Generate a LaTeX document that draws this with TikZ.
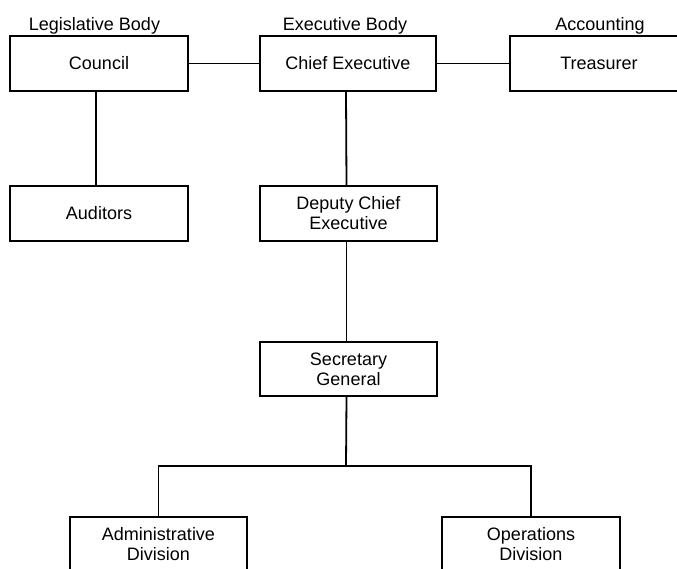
\documentclass[tikz,border=0pt]{standalone}
\usepackage{fontspec}
\setmainfont{Liberation Sans}
\usepackage{tikz}

\tikzset{
  unit/.style={draw, line width=1.8pt, minimum width=178pt, minimum height=55pt,
    align=center, inner sep=0pt, font=\fontsize{18pt}{20pt}\selectfont},
  heading/.style={inner sep=0pt, anchor=south, font=\fontsize{18pt}{20pt}\selectfont},
  link/.style={line width=1.8pt}
}

\begin{document}
\begin{tikzpicture}[x=1pt, y=-1pt]
        \clip (0, 0) rectangle (677, 568);
        \node[unit, minimum width=178pt] (council) at (99, 63.5) {Council};
        \node[unit, minimum width=176pt] (chief) at (348, 63.5) {Chief Executive};
        \node[unit, minimum width=178pt] (treasurer) at (599, 63.5) {Treasurer};
        \node[unit] (auditors) at (99, 213.5) {Auditors};
        \node[unit, minimum width=177pt] (deputy) at (348.5, 213.5) {Deputy Chief\\Executive};
        \node[unit, minimum width=177pt, minimum height=54pt] (secretary) at (348.5, 369) {Secretary\\General};
        \node[unit, minimum width=177pt] (admin) at (158.5, 544.5) {Administrative\\Division};
        \node[unit] (ops) at (531, 544.5) {Operations\\Division};
        \node[heading] (legislative) at (94.5, 34.5) {Legislative Body};
        \node[heading] (executive) at (345, 34.5) {Executive Body};
        \node[heading] (accounting) at (600, 34.5) {Accounting};
        \coordinate (fork) at (346, 466);
        \draw[link] (council) -- (chief);
        \draw[link] (chief) -- (treasurer);
        \draw[link] ([xshift=-3pt]council.south) -- ([xshift=-3pt]auditors.north);
        \draw[link] ([xshift=-2pt]chief.south) -- ([xshift=-2pt]deputy.north);
        \draw[link] ([xshift=-2pt]deputy.south) -- ([xshift=-2pt]secretary.north);
        \draw[link] ([xshift=-2pt]secretary.south) -- (fork);
        \draw[link] (admin.north) |- (fork) -| (ops.north);
    \end{tikzpicture}
\end{document}
